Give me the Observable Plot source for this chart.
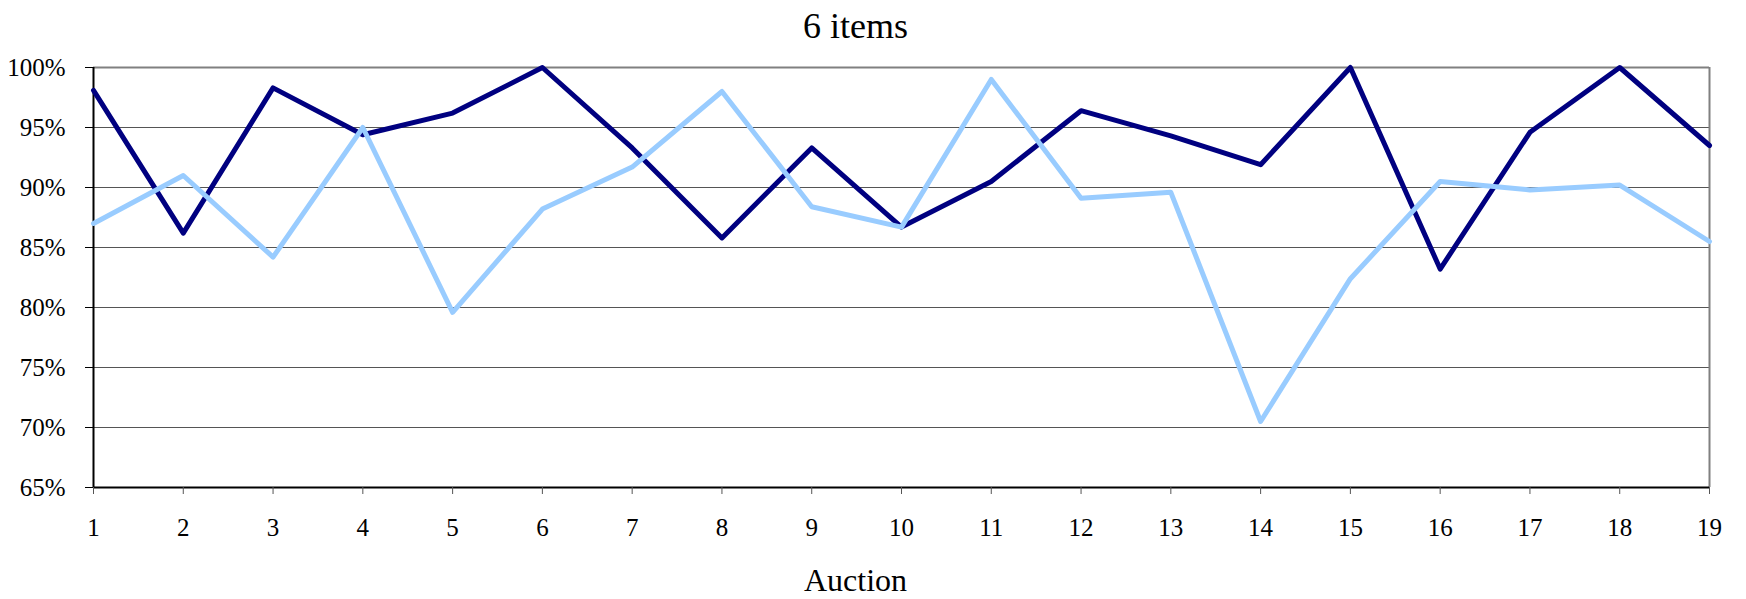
<!DOCTYPE html>
<html>
<head>
<meta charset="utf-8">
<script src="https://cdn.jsdelivr.net/npm/d3@7"></script>
<script src="https://cdn.jsdelivr.net/npm/@observablehq/plot@0.6"></script>
<style>
  html, body { margin: 0; padding: 0; background: #fff; }
  #chart svg { display: block; font-family: "Liberation Serif", "Times New Roman", serif; }
</style>
</head>
<body>
<div id="chart"></div>
<script>
// ---- data ----
const titleText = "6 items";
const xLabel = "Auction";
const auctions = [1, 2, 3, 4, 5, 6, 7, 8, 9, 10, 11, 12, 13, 14, 15, 16, 17, 18, 19];
const seriesDark = [98.1, 86.2, 98.3, 94.4, 96.2, 100, 93.3, 85.8, 93.3, 86.7, 90.5, 96.4, 94.3, 91.9, 100, 83.2, 94.6, 100, 93.5];
const seriesLight = [87.0, 91.0, 84.2, 95.0, 79.6, 88.2, 91.7, 98.0, 88.4, 86.7, 99.0, 89.1, 89.6, 70.5, 82.4, 90.5, 89.8, 90.2, 85.5];
const yTicks = [65, 70, 75, 80, 85, 90, 95, 100];
const yDomain = [65, 100];

const darkData = auctions.map((a, i) => ({auction: a, value: seriesDark[i]}));
const lightData = auctions.map((a, i) => ({auction: a, value: seriesLight[i]}));
const xDomain = d3.extent(auctions);

const chart = Plot.plot({
  width: 1746,
  height: 599,
  marginLeft: 93,
  marginRight: 37,
  marginTop: 67,
  marginBottom: 112,
  x: {domain: xDomain, ticks: auctions},
  y: {domain: yDomain, ticks: yTicks},
  marks: [
    Plot.ruleY(yTicks, {stroke: "#555", strokeWidth: 1}),
    Plot.ruleY([yDomain[1]], {stroke: "#808080", strokeWidth: 2}),
    Plot.ruleX([xDomain[1]], {stroke: "#808080", strokeWidth: 2}),
    Plot.ruleX([xDomain[0]], {stroke: "#000", strokeWidth: 2}),
    Plot.ruleY([yDomain[0]], {stroke: "#000", strokeWidth: 2}),
    Plot.axisY({ticks: yTicks, tickFormat: d => d + "%", tickSize: 8, tickPadding: 20, fontSize: 25, label: null, stroke: "#000"}),
    Plot.axisX({ticks: auctions, tickFormat: d => String(d), tickSize: 7, tickPadding: 24, fontSize: 25, label: null, stroke: "#555"}),
    Plot.line(darkData, {x: "auction", y: "value", stroke: "#000080", strokeWidth: 5, strokeLinejoin: "round"}),
    Plot.line(lightData, {x: "auction", y: "value", stroke: "#99CCFF", strokeWidth: 5, strokeLinejoin: "round"}),
    Plot.text([titleText], {text: d => d, frameAnchor: "top", lineAnchor: "bottom", dy: -29.5, dx: -46, fontSize: 36, fill: "#000"}),
    Plot.text([xLabel], {text: d => d, frameAnchor: "bottom", lineAnchor: "bottom", dy: 103, dx: -46, fontSize: 32, fill: "#000"})
  ]
});
document.getElementById("chart").appendChild(chart);
</script>
</body>
</html>
